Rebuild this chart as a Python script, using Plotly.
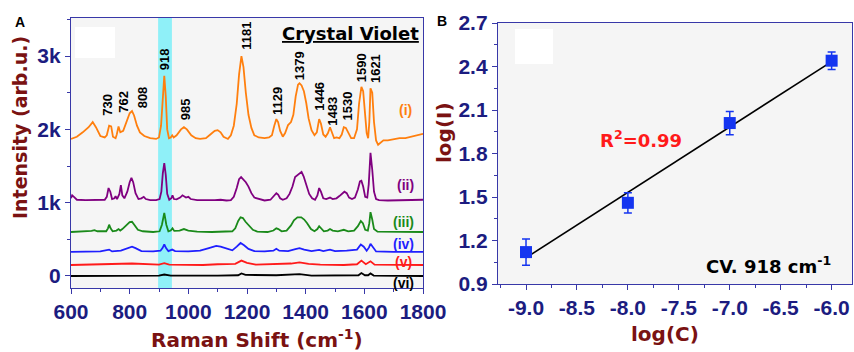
import numpy as np
import plotly.graph_objects as go

# ---------------- Panel A: SERS spectra of crystal violet ----------------
SHIFT_I = [600, 620, 640, 660, 674, 685, 700, 715, 722, 730, 737, 743, 752, 756, 762, 768, 778, 790,
           800, 808, 815, 825, 835, 850, 870, 890, 900, 907, 913, 918, 923, 928, 934, 940, 945, 950,
           960, 975, 985, 995, 1010, 1025, 1040, 1060, 1075, 1090, 1100, 1110, 1120, 1135, 1145, 1155,
           1165, 1173, 1181, 1188, 1196, 1205, 1215, 1225, 1240, 1260, 1275, 1285, 1293, 1300, 1306,
           1313, 1322, 1330, 1340, 1350, 1358, 1366, 1374, 1379, 1386, 1394, 1402, 1410, 1420, 1430,
           1438, 1446, 1452, 1460, 1468, 1476, 1483, 1489, 1497, 1505, 1515, 1523, 1530, 1537, 1545,
           1555, 1565, 1575, 1582, 1590, 1596, 1602, 1608, 1613, 1617, 1621, 1627, 1633, 1640, 1647,
           1655, 1665, 1680, 1700, 1720, 1740, 1760, 1780, 1800]
INT_I = [1870, 1900, 1960, 2030, 2100, 2030, 1910, 1890, 1920, 2050, 2040, 1900, 1880, 1930, 2040, 1960,
         1980, 2120, 2220, 2250, 2190, 2050, 1960, 1910, 1880, 1870, 1890, 2050, 2450, 2730, 2450, 2000,
         1880, 1890, 1920, 1890, 1920, 2000, 2030, 2000, 1920, 1880, 1870, 1880, 1930, 1980, 1990, 1960,
         1900, 1870, 1920, 2050, 2350, 2750, 3000, 2850, 2500, 2200, 2020, 1920, 1890, 1880, 1890, 1920,
         2050, 2140, 2100, 1980, 1900, 1950, 2060, 2100, 2200, 2450, 2610, 2630, 2600, 2520, 2360, 2150,
         1990, 1920, 1960, 2140, 2080, 1930, 1900, 1950, 2030, 1960, 1880, 1890, 1880, 1930, 2030, 2020,
         1950, 1880, 1880, 2000, 2350, 2580, 2520, 2200, 1950, 1880, 2100, 2560, 2500, 2100, 1850, 1790,
         1820, 1850, 1850, 1870, 1880, 1880, 1900, 1910, 1940]

SHIFT_II = [600, 604, 610, 620, 650, 680, 700, 715, 722, 728, 734, 740, 748, 752, 757, 765, 770, 775,
            782, 792, 800, 806, 812, 820, 830, 840, 848, 855, 870, 890, 902, 908, 913, 918, 923, 928,
            935, 942, 946, 951, 960, 972, 980, 986, 992, 1000, 1008, 1030, 1060, 1090, 1110, 1130, 1145,
            1155, 1165, 1173, 1180, 1188, 1196, 1205, 1215, 1225, 1240, 1260, 1280, 1292, 1300, 1306,
            1313, 1322, 1335, 1345, 1355, 1364, 1372, 1380, 1386, 1393, 1402, 1412, 1422, 1432, 1440,
            1446, 1452, 1460, 1470, 1476, 1483, 1492, 1505, 1515, 1525, 1532, 1540, 1548, 1558, 1568,
            1578, 1585, 1590, 1596, 1603, 1610, 1615, 1621, 1627, 1633, 1640, 1650, 1680, 1720, 1760, 1800]
INT_II = [1060, 1100, 1080, 1040, 1035, 1040, 1035, 1040, 1080, 1200, 1150, 1050, 1060, 1090, 1050, 1120,
          1240, 1100, 1060, 1150, 1280, 1340, 1280, 1130, 1050, 1060, 1080, 1050, 1035, 1035, 1050, 1150,
          1400, 1540, 1380, 1120, 1040, 1060, 1100, 1050, 1045, 1070, 1100, 1090, 1070, 1080, 1050, 1035,
          1030, 1035, 1040, 1030, 1035, 1080, 1200, 1320, 1350, 1320, 1280, 1220, 1130, 1070, 1050, 1030,
          1040, 1090, 1130, 1110, 1060, 1040, 1060, 1120, 1220, 1350, 1380, 1400, 1420, 1360, 1250, 1120,
          1060, 1040, 1100, 1200, 1150, 1060, 1050, 1060, 1070, 1050, 1060, 1090, 1120, 1150, 1130, 1070,
          1050, 1070, 1180, 1290, 1300, 1220, 1080, 1070, 1250, 1680, 1450, 1150, 1050, 1035, 1030, 1030,
          1040, 1040]

SHIFT_III = [600, 640, 670, 680, 690, 720, 726, 730, 735, 742, 755, 762, 768, 775, 790, 800, 808, 816,
             828, 845, 880, 902, 910, 918, 925, 932, 940, 946, 952, 970, 985, 1000, 1030, 1080, 1120,
             1150, 1160, 1170, 1178, 1186, 1195, 1208, 1220, 1235, 1270, 1290, 1300, 1307, 1318, 1335,
             1350, 1360, 1372, 1385, 1395, 1405, 1418, 1430, 1440, 1446, 1452, 1462, 1475, 1483, 1492,
             1510, 1530, 1545, 1565, 1578, 1588, 1595, 1603, 1612, 1617, 1621, 1627, 1633, 1645, 1700, 1800]
INT_III = [600, 605, 615, 625, 610, 610, 650, 700, 650, 610, 620, 640, 620, 640, 700, 735, 740, 700, 630,
           610, 600, 610, 700, 860, 700, 610, 620, 650, 615, 620, 640, 620, 605, 600, 605, 610, 650, 750,
           800, 790, 740, 690, 630, 605, 600, 620, 650, 640, 610, 620, 690, 760, 800, 800, 770, 720, 640,
           610, 640, 680, 650, 610, 620, 640, 620, 610, 630, 610, 620, 680, 750, 720, 630, 620, 720, 870,
           770, 640, 605, 600, 600]

SHIFT_IV = [600, 650, 700, 730, 740, 770, 795, 808, 820, 840, 880, 905, 912, 918, 924, 932, 945, 955,
            1000, 1040, 1070, 1095, 1110, 1130, 1150, 1165, 1178, 1190, 1205, 1225, 1260, 1290, 1300,
            1310, 1340, 1365, 1379, 1395, 1420, 1446, 1460, 1483, 1500, 1540, 1575, 1588, 1598, 1608,
            1616, 1621, 1628, 1640, 1700, 1800]
INT_IV = [330, 335, 335, 360, 335, 345, 380, 400, 380, 340, 335, 345, 380, 430, 380, 340, 360, 340, 335,
          345, 380, 410, 400, 370, 350, 400, 450, 420, 370, 340, 335, 345, 370, 345, 340, 365, 380, 360,
          340, 355, 340, 360, 340, 345, 360, 430, 400, 345, 390, 440, 400, 335, 330, 330]

SHIFT_V = [600, 700, 808, 900, 918, 935, 1050, 1100, 1160, 1181, 1200, 1230, 1300, 1350, 1379, 1410,
           1450, 1530, 1575, 1590, 1605, 1621, 1635, 1700, 1800]
INT_V = [150, 155, 170, 155, 175, 155, 150, 160, 165, 210, 180, 155, 165, 170, 185, 165, 155, 150, 160,
         210, 160, 200, 155, 150, 150]

SHIFT_VI = [600, 700, 810, 900, 918, 940, 1100, 1170, 1181, 1195, 1300, 1379, 1420, 1530, 1580, 1590,
            1602, 1613, 1621, 1632, 1700, 1800]
INT_VI = [0, 5, 10, 5, 20, 5, 5, 10, 35, 15, 10, 25, 5, 5, 10, 40, 10, 10, 35, 5, 0, 0]

SPECTRA = [
    ("(i)", SHIFT_I, INT_I, "#ff7f0e"),
    ("(ii)", SHIFT_II, INT_II, "#800080"),
    ("(iii)", SHIFT_III, INT_III, "#1a8a1a"),
    ("(iv)", SHIFT_IV, INT_IV, "#1f1fff"),
    ("(v)", SHIFT_V, INT_V, "#ff1a1a"),
    ("(vi)", SHIFT_VI, INT_VI, "#000000"),
]
# curve labels: (x, y) anchor in data units
CURVE_LABEL_X = [1742, 1739, 1732, 1735, 1735, 1733]
CURVE_LABEL_Y = [2260, 1240, 740, 440, 190, -100]

# peak assignments written above spectrum (i): text, x, bottom of text
PEAK_TEXT = ["730", "762", "808", "918", "985", "1181", "1129", "1379", "1446", "1483", "1530", "1590", "1621"]
PEAK_LX = [726, 781, 842, 917, 989, 1200, 1306, 1377, 1449, 1493, 1544, 1589, 1636]
PEAK_LY = [2160, 2200, 2260, 2780, 2100, 3060, 2170, 2650, 2220, 2030, 2100, 2610, 2610]

BAND = (897, 944)  # highlighted 918 cm-1 band

X_TICKS_A = [600, 800, 1000, 1200, 1400, 1600, 1800]
Y_TICKS_A = [0, 1000, 2000, 3000]
Y_TICKTEXT_A = ["0", "1k", "2k", "3k"]

# ---------------- Panel B: calibration ----------------
LOG_C = [-9.0, -8.0, -7.0, -6.0]
LOG_I = [1.12, 1.46, 2.01, 2.44]
LOG_I_ERR = [0.09, 0.07, 0.08, 0.06]
X_TICKS_B = [-9.0, -8.5, -8.0, -7.5, -7.0, -6.5, -6.0]
Y_TICKS_B = [0.9, 1.2, 1.5, 1.8, 2.1, 2.4, 2.7]

W, H = 854, 352
NAVY = "#1c1c80"
DARKRED = "#7a1212"
AXLINE = "#3838a8"
TICKFONT = dict(family="Liberation Sans, Arial", size=21, color=NAVY, weight="bold")
TITLEFONT = dict(family="DejaVu Sans", size=20, color=DARKRED, weight="bold")


def px_x(p):
    return p / W


def px_y(p):
    return 1 - p / H


fig = go.Figure()

for name, xs, ys, col in SPECTRA:
    fig.add_trace(go.Scatter(x=xs, y=ys, mode="lines", name=name,
                             line=dict(color=col, width=1.8), xaxis="x", yaxis="y",
                             showlegend=False, hoverinfo="skip"))

slope, intercept = np.polyfit(LOG_C, LOG_I, 1)
fit_x = np.array([min(LOG_C), max(LOG_C)])
fig.add_trace(go.Scatter(x=fit_x, y=slope * fit_x + intercept, mode="lines",
                         line=dict(color="black", width=1.6), xaxis="x2", yaxis="y2",
                         showlegend=False))
fig.add_trace(go.Scatter(x=LOG_C, y=LOG_I, mode="markers",
                         marker=dict(symbol="square", size=12, color="#1535f0"),
                         error_y=dict(type="data", array=LOG_I_ERR, color="#1535f0",
                                      thickness=1.5, width=4),
                         xaxis="x2", yaxis="y2", showlegend=False))

axis_common = dict(showgrid=False, zeroline=False, showline=True, linecolor=AXLINE,
                   linewidth=1.3, mirror=True, ticks="outside", ticklen=5, tickwidth=1.3,
                   tickcolor=AXLINE, tickfont=TICKFONT, automargin=False)

fig.update_layout(
    template="none",
    width=W, height=H,
    margin=dict(l=0, r=0, t=0, b=0, pad=0),
    paper_bgcolor="white",
    plot_bgcolor="#f5f5f5",
    xaxis=dict(domain=[px_x(71), px_x(423)], range=[600, 1800], tickvals=X_TICKS_A,
               minor=dict(dtick=100, ticklen=3, tickcolor=AXLINE, ticks="outside"),
               anchor="y", **axis_common),
    yaxis=dict(domain=[px_y(288), px_y(18)], range=[-164, 3520], tickvals=Y_TICKS_A,
               ticktext=Y_TICKTEXT_A,
               minor=dict(tickvals=[500, 1500, 2500, 3500], ticklen=3, tickcolor=AXLINE, ticks="outside"),
               anchor="x", **axis_common),
    xaxis2=dict(domain=[px_x(498), px_x(852)], range=[-9.275, -5.80], tickvals=X_TICKS_B,
                ticktext=[f"{v:.1f}" for v in X_TICKS_B],
                minor=dict(dtick=0.25, tick0=-9, ticklen=3, tickcolor=AXLINE, ticks="outside"),
                anchor="y2", **axis_common),
    yaxis2=dict(domain=[px_y(284), px_y(23)], range=[0.9, 2.7], tickvals=Y_TICKS_B,
                ticktext=[f"{v:.1f}" for v in Y_TICKS_B],
                minor=dict(dtick=0.15, tick0=0.9, ticklen=3, tickcolor=AXLINE, ticks="outside"),
                anchor="x2", **axis_common),
)

shapes = [
    dict(type="rect", xref="x", yref="y domain", x0=BAND[0], x1=BAND[1], y0=0, y1=1,
         fillcolor="#8ff0f8", line=dict(width=0), layer="below"),
    dict(type="rect", xref="paper", yref="paper", x0=px_x(75), x1=px_x(115), y0=px_y(58), y1=px_y(27),
         fillcolor="white", line=dict(width=0), layer="below"),
    dict(type="rect", xref="paper", yref="paper", x0=px_x(515), x1=px_x(553), y0=px_y(64), y1=px_y(29),
         fillcolor="white", line=dict(width=0), layer="below"),
]
fig.update_layout(shapes=shapes)

ann = []
for t, x, y in zip(PEAK_TEXT, PEAK_LX, PEAK_LY):
    ann.append(dict(x=x, y=y, xref="x", yref="y", text=t, showarrow=False, textangle=-90,
                    xanchor="center", yanchor="bottom",
                    font=dict(family="Liberation Sans, Arial", size=13, color="black", weight="bold")))
for (name, _, _, col), x, y in zip(SPECTRA, CURVE_LABEL_X, CURVE_LABEL_Y):
    ann.append(dict(x=x, y=y, xref="x", yref="y", text=name, showarrow=False,
                    xanchor="center", yanchor="middle",
                    font=dict(family="Liberation Sans, Arial", size=14, color=col, weight="bold")))

ann += [
    dict(x=px_x(350), y=px_y(34), xref="paper", yref="paper", text="<u>Crystal Violet</u>",
         showarrow=False, xanchor="center", yanchor="middle",
         font=dict(family="DejaVu Sans", size=18, color="black", weight="bold")),
    dict(x=px_x(20), y=px_y(128), xref="paper", yref="paper", text="Intensity (arb.u.)",
         showarrow=False, textangle=-90, xanchor="center", yanchor="middle",
         font=dict(family="DejaVu Sans", size=19, color=DARKRED, weight="bold")),
    dict(x=px_x(257), y=px_y(339), xref="paper", yref="paper", text="Raman Shift (cm<sup>-1</sup>)",
         showarrow=False, xanchor="center", yanchor="middle", font=TITLEFONT),
    dict(x=px_x(444), y=px_y(133), xref="paper", yref="paper", text="log(I)",
         showarrow=False, textangle=-90, xanchor="center", yanchor="middle", font=TITLEFONT),
    dict(x=px_x(665), y=px_y(334), xref="paper", yref="paper", text="log(C)",
         showarrow=False, xanchor="center", yanchor="middle", font=TITLEFONT),
    dict(x=-7.87, y=1.90, xref="x2", yref="y2", text="R<sup>2</sup>=0.99", showarrow=False,
         xanchor="center", yanchor="middle",
         font=dict(family="DejaVu Sans", size=18, color="#ff1a1a", weight="bold")),
    dict(x=-5.99, y=1.03, xref="x2", yref="y2", text="CV. 918 cm<sup>-1</sup>", showarrow=False,
         xanchor="right", yanchor="middle",
         font=dict(family="DejaVu Sans", size=18, color="black", weight="bold")),
    dict(x=px_x(20), y=px_y(22), xref="paper", yref="paper", text="A", showarrow=False,
         xanchor="center", yanchor="middle",
         font=dict(family="Liberation Sans, Arial", size=14, color="black", weight="bold")),
    dict(x=px_x(442), y=px_y(21), xref="paper", yref="paper", text="B", showarrow=False,
         xanchor="center", yanchor="middle",
         font=dict(family="Liberation Sans, Arial", size=14, color="black", weight="bold")),
]
fig.update_layout(annotations=ann)

fig.write_html("out.html")
